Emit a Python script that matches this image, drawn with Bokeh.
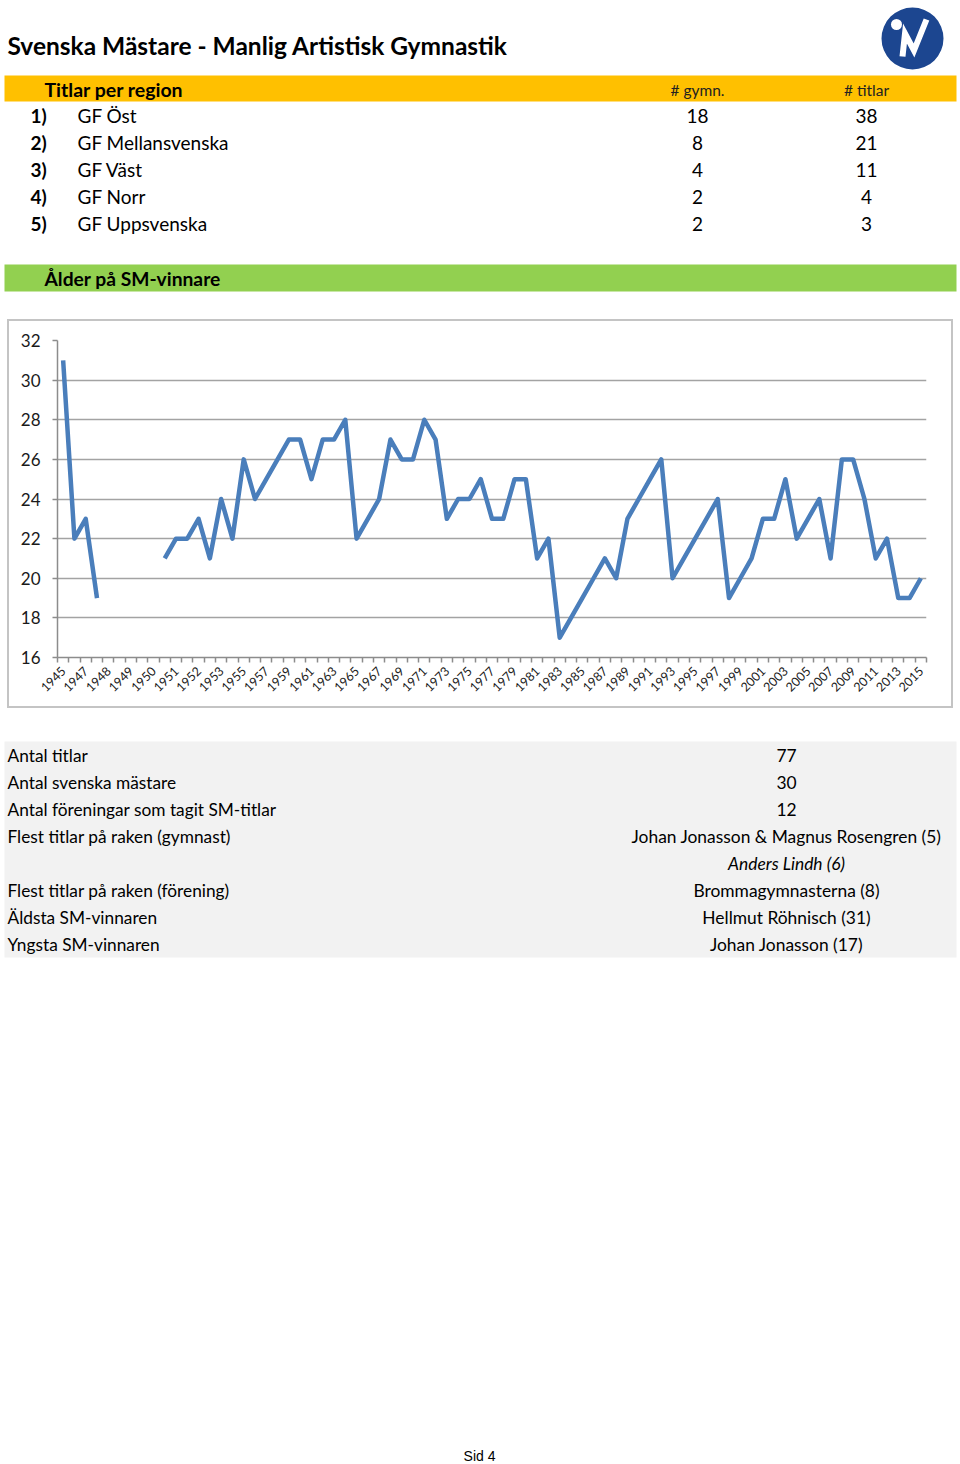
import math
import numpy as np
from bokeh.plotting import figure
from bokeh.layouts import column
from bokeh.models import Range1d, FixedTicker, Plot
from bokeh.core.properties import value
from bokeh.embed import file_html
from bokeh.resources import INLINE

FONT = "Lato"

# ---------------- data ----------------
title_text = "Svenska Mästare - Manlig Artistisk Gymnastik"

region_header = "Titlar per region"
col_headers = ["# gymn.", "# titlar"]
region_ranks = ["1)", "2)", "3)", "4)", "5)"]
regions = ["GF Öst", "GF Mellansvenska", "GF Väst", "GF Norr", "GF Uppsvenska"]
gymnasts = [18, 8, 4, 2, 2]
titles = [38, 21, 11, 4, 3]

age_header = "Ålder på SM-vinnare"

# visible category labels (every second category is labelled)
tick_labels = ["1945", "1947", "1948", "1949", "1950", "1951", "1952", "1953",
               "1955", "1957", "1959", "1961", "1963", "1965", "1967", "1969",
               "1971", "1973", "1975", "1977", "1979", "1981", "1983", "1985",
               "1987", "1989", "1991", "1993", "1995", "1997", "1999", "2001",
               "2003", "2005", "2007", "2009", "2011", "2013", "2015"]

# age of the champion, one value per category (77 categories), None = no value
ages = [31, 22, 23, 19, None, None, None, None, None, 21,
        22, 22, 23, 21, 24, 22, 26, 24, 25, 26,
        27, 27, 25, 27, 27, 28, 22, 23, 24, 27,
        26, 26, 28, 27, 23, 24, 24, 25, 23, 23,
        25, 25, 21, 22, 17, 18, 19, 20, 21, 20,
        23, 24, 25, 26, 20, 21, 22, 23, 24, 19,
        20, 21, 23, 23, 25, 22, 23, 24, 21, 26,
        26, 24, 21, 22, 19, 19, 20]

y_ticks = [16, 18, 20, 22, 24, 26, 28, 30, 32]

stat_labels = ["Antal titlar", "Antal svenska mästare",
               "Antal föreningar som tagit SM-titlar",
               "Flest titlar på raken (gymnast)", "",
               "Flest titlar på raken (förening)",
               "Äldsta SM-vinnaren", "Yngsta SM-vinnaren"]
stat_values = ["77", "30", "12", "Johan Jonasson & Magnus Rosengren (5)",
               "Anders Lindh (6)", "Brommagymnasterna (8)",
               "Hellmut Röhnisch (31)", "Johan Jonasson (17)"]
stat_italic = [False, False, False, False, True, False, False, False]

page_footer = "Sid 4"

W = 960
TOP_H = 310
CH_TOP, CH_H, CH_BOT = 11, 385, 6          # chart margins / height
BOT_H = 1464 - TOP_H - CH_TOP - CH_H - CH_BOT

HAS_FRAME_ALIGN = "frame_align" in Plot.properties()


def blank(h):
    kw = {}
    if HAS_FRAME_ALIGN:
        kw["frame_align"] = False
    f = figure(frame_width=W, frame_height=h, x_range=Range1d(0, W),
               y_range=Range1d(h, 0), x_axis_type=None, y_axis_type=None,
               output_backend="svg", toolbar_location=None, min_border=0, **kw)
    f.grid.visible = False
    f.outline_line_color = None
    return f


# ---------------- top part ----------------
top = blank(TOP_H)
top.text(x=[7], y=[45], text=[title_text], text_font=value(FONT),
         text_font_style="bold", text_font_size="24.5px", text_baseline="middle",
         text_color="black")

# logo
top.circle(x=[912], y=[38], radius=31, fill_color="#1c4690", line_color=None)
top.circle(x=[896], y=[24], radius=5.5, fill_color="white", line_color=None)
top.line(x=[902, 904.5, 913.5, 926], y=[56, 33, 50, 19], line_color="white",
         line_width=6, line_join="miter")

# orange header band
top.quad(left=4, right=956, top=75, bottom=101, fill_color="#FFC000", line_color=None)
top.text(x=[44], y=[88.5], text=[region_header], text_font=value(FONT),
         text_font_style="bold", text_font_size="19.5px", text_baseline="middle",
         text_color="black")
top.text(x=[697, 866], y=[89, 89], text=col_headers, text_font=value(FONT),
         text_font_size="15.5px", text_baseline="middle", text_align="center",
         text_color="#222222")

row_y = [115 + 27 * i for i in range(len(regions))]
top.text(x=[30] * len(regions), y=row_y, text=region_ranks, text_font=value(FONT),
         text_font_style="bold", text_font_size="19px", text_baseline="middle",
         text_color="black")
top.text(x=[77] * len(regions), y=row_y, text=regions, text_font=value(FONT),
         text_font_size="19px", text_baseline="middle", text_color="black")
top.text(x=[697] * len(regions), y=row_y, text=[str(v) for v in gymnasts],
         text_font=value(FONT), text_font_size="19px", text_baseline="middle",
         text_align="center", text_color="black")
top.text(x=[866] * len(regions), y=row_y, text=[str(v) for v in titles],
         text_font=value(FONT), text_font_size="19px", text_baseline="middle",
         text_align="center", text_color="black")

# green header band
top.quad(left=4, right=956, top=264, bottom=291, fill_color="#92D050", line_color=None)
top.text(x=[44], y=[277.5], text=[age_header], text_font=value(FONT),
         text_font_style="bold", text_font_size="19.25px", text_baseline="middle",
         text_color="black")

# ---------------- chart ----------------
n = len(ages)
xs = np.arange(n)
ys = np.array([np.nan if a is None else a for a in ages], dtype=float)

ckw = {}
if HAS_FRAME_ALIGN:
    ckw["frame_align"] = False
CH_W = W - 18
chart = figure(width=CH_W, height=CH_H, x_range=Range1d(-0.5, n - 0.5),
               y_range=Range1d(16, 32), output_backend="svg", toolbar_location=None,
               min_border_left=48, min_border_right=25, min_border_top=19,
               min_border_bottom=49, margin=(CH_TOP, 9, CH_BOT, 9), **ckw)
chart.styles = {"outline": "2px solid #c4c4c4"}
chart.outline_line_color = None
chart.xgrid.visible = False
chart.ygrid.ticker = FixedTicker(ticks=y_ticks[1:])
chart.ygrid.grid_line_color = "#a3a3a3"
chart.ygrid.grid_line_width = 1.5

chart.yaxis.ticker = FixedTicker(ticks=y_ticks)
chart.yaxis.axis_line_color = "#8c8c8c"
chart.yaxis.axis_line_width = 1.5
chart.yaxis.major_tick_line_color = "#8c8c8c"
chart.yaxis.major_tick_line_width = 1.5
chart.yaxis.major_tick_out = 5
chart.yaxis.major_tick_in = 0
chart.yaxis.minor_tick_line_color = None
chart.yaxis.major_label_standoff = 12
chart.yaxis.major_label_text_font = FONT
chart.yaxis.major_label_text_font_size = "17px"
chart.yaxis.major_label_text_color = "#1a1a1a"

label_idx = list(range(0, n, 2))
chart.xaxis.ticker = FixedTicker(ticks=label_idx,
                                 minor_ticks=[i - 0.5 for i in range(n + 1)])
chart.xaxis.major_label_overrides = {i: lab for i, lab in zip(label_idx, tick_labels)}
chart.xaxis.major_label_orientation = math.pi / 4
chart.xaxis.major_tick_out = 0
chart.xaxis.major_tick_in = 0
chart.xaxis.minor_tick_out = 5
chart.xaxis.minor_tick_in = 0
chart.xaxis.minor_tick_line_color = "#8c8c8c"
chart.xaxis.minor_tick_line_width = 1.5
chart.xaxis.axis_line_color = "#8c8c8c"
chart.xaxis.axis_line_width = 1.5
chart.xaxis.major_label_standoff = 6
chart.xaxis.major_label_text_font = FONT
chart.xaxis.major_label_text_font_size = "12.5px"
chart.xaxis.major_label_text_color = "#1a1a1a"

chart.line(x=xs, y=ys, line_color="#4a7ebb", line_width=4.5, line_join="round")

# ---------------- bottom part ----------------
bot = blank(BOT_H)
OFF = 1464 - BOT_H
bot.quad(left=4, right=956, top=741 - OFF, bottom=957 - OFF,
         fill_color="#F2F2F2", line_color=None)
stat_y = [755 - OFF + 27 * i for i in range(len(stat_labels))]
bot.text(x=[7] * len(stat_labels), y=stat_y, text=stat_labels, text_font=value(FONT),
         text_font_size="17.3px", text_baseline="middle", text_color="black")
norm_y = [y for y, it in zip(stat_y, stat_italic) if not it]
norm_v = [v for v, it in zip(stat_values, stat_italic) if not it]
ital_y = [y for y, it in zip(stat_y, stat_italic) if it]
ital_v = [v for v, it in zip(stat_values, stat_italic) if it]
bot.text(x=[786] * len(norm_v), y=norm_y, text=norm_v, text_font=value(FONT),
         text_font_size="17.4px", text_baseline="middle", text_align="center",
         text_color="black")
bot.text(x=[786] * len(ital_v), y=ital_y, text=ital_v, text_font=value(FONT),
         text_font_size="17.4px", text_font_style="italic", text_baseline="middle",
         text_align="center", text_color="black")

bot.text(x=[479], y=[1455 - OFF], text=[page_footer],
         text_font=value("Liberation Sans"), text_font_size="14px",
         text_baseline="middle", text_align="center", text_color="black")

layout = column(top, chart, bot, spacing=0)
open("out.html", "w").write(file_html(layout, INLINE))
